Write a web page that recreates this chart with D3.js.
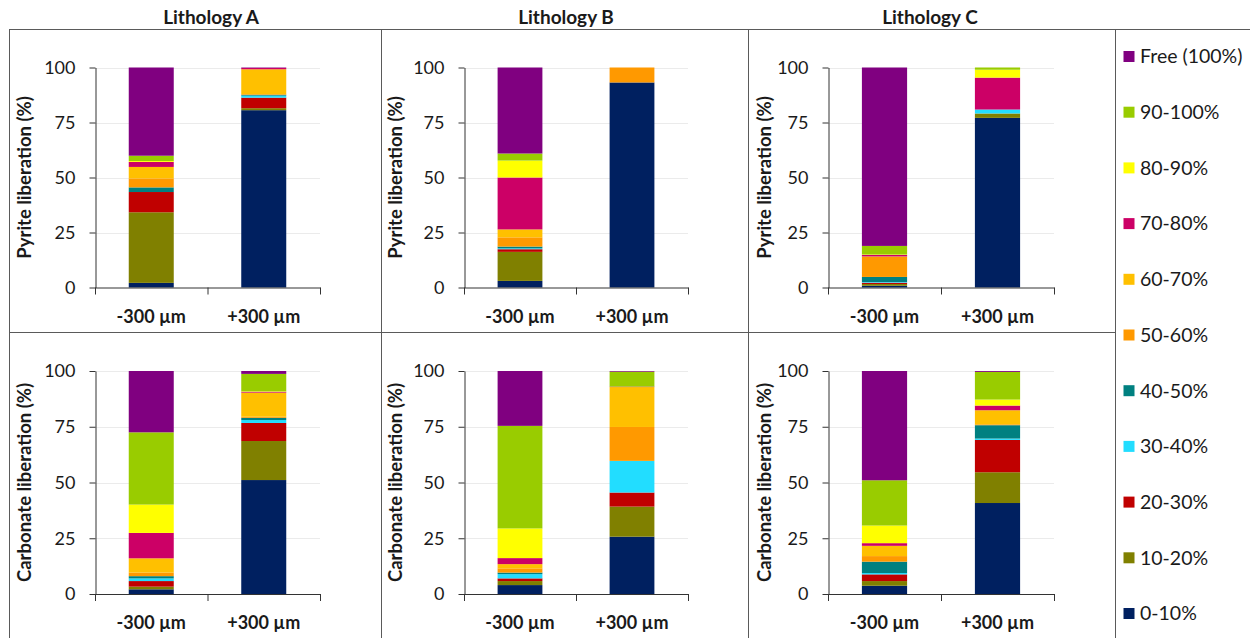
<!DOCTYPE html>
<html>
<head>
<meta charset="utf-8">
<script src="https://cdn.jsdelivr.net/npm/d3@7/dist/d3.min.js"></script>
<style>
  html, body { margin: 0; padding: 0; background: #fff; }
  svg { display: block; }
  text { font-family: Lato, "Open Sans", sans-serif; fill: #1a1a1a; }
</style>
</head>
<body>
<svg id="chart" width="1250" height="638"></svg>
<script>
// Liberation classes, bottom of the stack first
const classes = ["0-10%", "10-20%", "20-30%", "30-40%", "40-50%", "50-60%",
                 "60-70%", "70-80%", "80-90%", "90-100%", "Free (100%)"];
const classColors = ["#002060", "#808000", "#C00000", "#22DDFF", "#008080", "#FF9900",
                     "#FFC000", "#CC0066", "#FFFF00", "#99CC00", "#800080"];
const sizeFractions = ["-300 µm", "+300 µm"];
const lithologies = ["Lithology A", "Lithology B", "Lithology C"];
const mineralTitles = ["Pyrite liberation (%)", "Carbonate liberation (%)"];
const yTicks = [0, 25, 50, 75, 100];

// Share of each liberation class (%), per size fraction
const pyriteA_minus = [2.1, 32.1, 9.2, 0.0, 2.1, 4.1, 5.2, 2.3, 0.4, 2.4, 40.1];
const pyriteA_plus  = [80.6, 0.9, 4.8, 0.9, 0.4, 0.3, 11.3, 0.6, 0.0, 0.0, 0.2];
const pyriteB_minus = [3.0, 13.2, 1.2, 0.4, 0.8, 4.2, 3.6, 23.6, 7.7, 3.2, 39.1];
const pyriteB_plus  = [93.2, 0.0, 0.0, 0.0, 0.0, 6.8, 0.0, 0.0, 0.0, 0.0, 0.0];
const pyriteC_minus = [0.8, 0.8, 0.6, 0.3, 2.3, 9.1, 0.2, 0.7, 0.2, 3.9, 81.1];
const pyriteC_plus  = [77.1, 2.0, 0.0, 1.8, 0.0, 0.0, 0.0, 14.5, 3.6, 1.0, 0.0];
const carbA_minus   = [2.1, 1.2, 2.5, 1.2, 1.0, 1.6, 6.4, 11.4, 12.7, 32.4, 27.5];
const carbA_plus    = [51.1, 17.5, 8.1, 1.3, 1.0, 0.5, 10.8, 0.4, 0.2, 7.8, 1.3];
const carbB_minus   = [4.0, 1.8, 1.2, 1.9, 0.7, 1.9, 1.9, 2.7, 13.3, 46.0, 24.6];
const carbB_plus    = [25.7, 13.5, 6.3, 14.2, 0.0, 15.2, 17.9, 0.2, 0.0, 6.7, 0.3];
const carbC_minus   = [3.7, 2.1, 3.0, 0.6, 5.1, 2.5, 4.6, 1.2, 7.9, 20.3, 49.0];
const carbC_plus    = [40.8, 13.8, 14.5, 0.6, 6.0, 0.4, 6.3, 2.1, 2.7, 12.4, 0.4];

const panelValues = [
  [[pyriteA_minus, pyriteA_plus], [pyriteB_minus, pyriteB_plus], [pyriteC_minus, pyriteC_plus]],
  [[carbA_minus, carbA_plus], [carbB_minus, carbB_plus], [carbC_minus, carbC_plus]]
];

// Layout
const svg = d3.select("#chart");
const plotX = [[95, 320], [464, 688], [828, 1054]];
const plotY = [[287.5, 67.5], [594, 371]];
const titleX = [211, 566, 930];
const yTitleOffset = [70, 68, 63];
const lineColor = "#5a5a5a";

const color = d3.scaleOrdinal().domain(classes).range(classColors);

// Frame lines
const frame = svg.append("g").attr("stroke", lineColor).attr("stroke-width", 1).attr("fill", "none");
frame.append("line").attr("x1", 9).attr("x2", 1255).attr("y1", 29.5).attr("y2", 29.5);
frame.append("line").attr("x1", 9).attr("x2", 1115).attr("y1", 332.5).attr("y2", 332.5);
[9, 381, 748, 1115, 1254].forEach(x => {
  frame.append("line").attr("x1", x + 0.5).attr("x2", x + 0.5).attr("y1", 29).attr("y2", 638);
});

// Column titles
lithologies.forEach((name, i) => {
  svg.append("text")
    .attr("x", titleX[i]).attr("y", 24)
    .attr("text-anchor", "middle")
    .attr("font-size", 19).attr("font-weight", "bold")
    .text(name);
});

const stack = d3.stack().keys(d3.range(classes.length));

panelValues.forEach((row, r) => {
  row.forEach((pair, c) => {
    const g = svg.append("g");
    const x = d3.scaleBand().domain(sizeFractions).range(plotX[c]).paddingInner(0.6).paddingOuter(0.3);
    const y = d3.scaleLinear().domain([0, 100]).range(plotY[r]);

    // light horizontal gridlines
    g.append("g").selectAll("line")
      .data(yTicks.filter(t => t > 0))
      .join("line")
      .attr("x1", plotX[c][0]).attr("x2", plotX[c][1])
      .attr("y1", d => Math.round(y(d)) + 0.5).attr("y2", d => Math.round(y(d)) + 0.5)
      .attr("stroke", "#ebebeb");

    // stacked bars
    const series = stack(pair.map(v => v.slice()));
    g.append("g").selectAll("g")
      .data(series)
      .join("g")
      .attr("fill", d => classColors[d.key])
      .selectAll("rect")
      .data(d => d.map((s, i) => ({ s, cat: sizeFractions[i] })))
      .join("rect")
      .attr("x", d => x(d.cat))
      .attr("width", x.bandwidth())
      .attr("y", d => y(d.s[1]))
      .attr("height", d => Math.max(0, y(d.s[0]) - y(d.s[1])));

    // y axis
    const yAxis = g.append("g")
      .attr("transform", `translate(${plotX[c][0] + 0.5},0)`)
      .call(d3.axisLeft(y).tickValues(yTicks).tickSize(6).tickPadding(14).tickSizeOuter(0));
    yAxis.select(".domain").attr("stroke", "#333");
    yAxis.selectAll(".tick line").attr("stroke", "#333");
    yAxis.selectAll(".tick text").attr("font-size", 18).attr("font-family", "Lato, sans-serif").attr("fill", "#1a1a1a");

    // x axis: baseline with ticks at band boundaries
    const xEdge = d3.scaleLinear().domain([0, sizeFractions.length]).range(plotX[c]);
    const xAxis = g.append("g")
      .attr("transform", `translate(0,${plotY[r][0]})`)
      .call(d3.axisBottom(xEdge).tickValues(d3.range(sizeFractions.length + 1)).tickSize(7).tickSizeOuter(0).tickFormat(""));
    xAxis.select(".domain").attr("stroke", "#333");
    xAxis.selectAll(".tick line").attr("stroke", "#333");

    // category labels
    g.append("g").selectAll("text")
      .data(sizeFractions)
      .join("text")
      .attr("x", d => x(d) + x.bandwidth() / 2)
      .attr("y", plotY[r][0] + 35)
      .attr("text-anchor", "middle")
      .attr("font-size", 18).attr("font-weight", "bold")
      .text(d => d);

    // y axis title
    const cy = (plotY[r][0] + plotY[r][1]) / 2;
    const tx = plotX[c][0] - yTitleOffset[c];
    g.append("text")
      .attr("transform", `translate(${tx},${cy}) rotate(-90)`)
      .attr("text-anchor", "middle")
      .attr("dy", "0.35em")
      .attr("font-size", 18.5).attr("font-weight", "bold")
      .text(mineralTitles[r]);
  });
});

// Legend, top entry = last class
const legend = svg.append("g");
const legendOrder = classes.slice().reverse();
const ly = d3.scalePoint().domain(legendOrder).range([56.5, 613.5]);
legend.selectAll("rect")
  .data(legendOrder)
  .join("rect")
  .attr("x", 1123.5).attr("y", d => ly(d) - 5.5)
  .attr("width", 11).attr("height", 11)
  .attr("fill", d => color(d));
legend.selectAll("text")
  .data(legendOrder)
  .join("text")
  .attr("x", 1140).attr("y", d => ly(d))
  .attr("dy", "0.35em")
  .attr("font-size", 19.5)
  .text(d => d);
</script>
</body>
</html>
